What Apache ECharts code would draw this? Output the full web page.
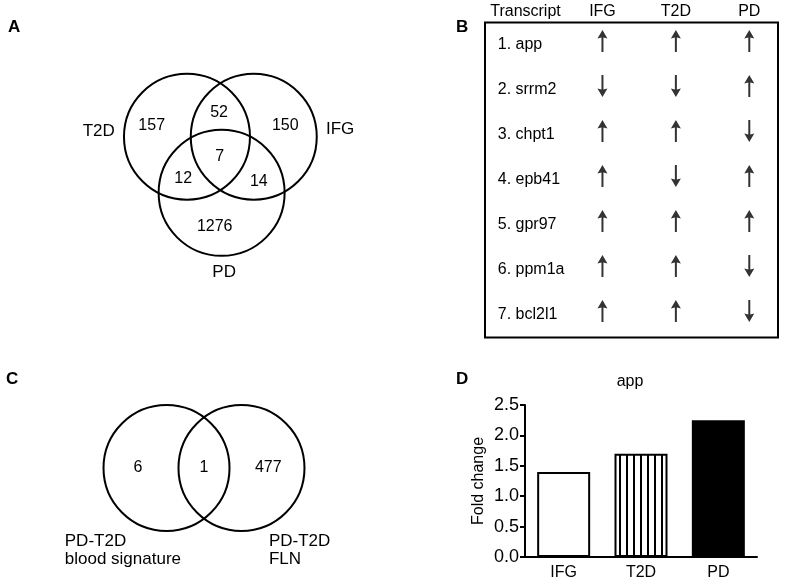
<!DOCTYPE html>
<html>
<head>
<meta charset="utf-8">
<script src="https://cdn.jsdelivr.net/npm/echarts@6/dist/echarts.min.js"></script>
<style>html,body{margin:0;padding:0;background:#fff}#c{width:786px;height:585px}</style>
</head>
<body>
<div id="c"></div>
<script>
// ---------- DATA ----------
// Panel A: three-way Venn (gene counts)
const vennASets = ['T2D', 'IFG', 'PD'];
const vennARegions = ['T2D only', 'T2D∩IFG', 'IFG only', 'all', 'T2D∩PD', 'IFG∩PD', 'PD only'];
const vennACounts = [157, 52, 150, 7, 12, 14, 1276];
// Panel C: two-way Venn
const vennCSets = ['PD-T2D\nblood signature', 'PD-T2D\nFLN'];
const vennCCounts = [6, 1, 477];
// Panel B: direction table
const transcripts = ['1. app', '2. srrm2', '3. chpt1', '4. epb41', '5. gpr97', '6. ppm1a', '7. bcl2l1'];
const conditions = ['IFG', 'T2D', 'PD'];
const ifgDir = ['up', 'down', 'up', 'up', 'up', 'up', 'up'];
const t2dDir = ['up', 'down', 'up', 'down', 'up', 'up', 'up'];
const pdDir  = ['up', 'up', 'down', 'up', 'up', 'down', 'down'];
// Panel D: fold change of app
const foldChange = [1.4, 1.7, 2.25];
const foldTicks = [0, 0.5, 1.0, 1.5, 2.0, 2.5];

// ---------- LAYOUT (diagram units, circle radius = 1) ----------
const layoutACircles = [[-0.54, 0.29, 1], [0.52, 0.29, 1], [0.01, -0.60, 1]];
const layoutASetLabels = [[-1.94, 0.37], [1.89, 0.40], [0.05, -1.86]];
const layoutARegions = [[-1.10, 0.46], [-0.03, 0.67], [1.02, 0.46], [-0.02, -0.03], [-0.60, -0.38], [0.60, -0.43], [-0.10, -1.13]];
const layoutCCircles = [[-0.595, 0, 1.0], [0.595, 0, 1.0]];
const layoutCSetLabels = [[-2.21, -1.41], [1.03, -1.41]];
const layoutCRegions = [[-1.05, 0], [0, 0], [1.02, 0]];

const FONT = '"Liberation Sans", Arial, sans-serif';

function circleSeries(ai, circles) {
  return {
    type: 'custom', xAxisIndex: ai, yAxisIndex: ai, silent: true,
    data: circles,
    renderItem: function (params, api) {
      const c = api.coord([api.value(0), api.value(1)]);
      const r = api.size([api.value(2), 0])[0];
      return { type: 'circle', shape: { cx: c[0], cy: c[1], r: r },
        style: { fill: 'none', stroke: '#000', lineWidth: 2 } };
    }
  };
}
function textSeries(ai, items) {
  return {
    type: 'custom', xAxisIndex: ai, yAxisIndex: ai, silent: true,
    data: items.map((it, i) => [it.pos[0], it.pos[1], i]),
    renderItem: function (params, api) {
      const it = items[api.value(2)];
      const c = api.coord([api.value(0), api.value(1)]);
      return { type: 'text', x: c[0], y: c[1],
        style: { text: it.text, fill: '#000', font: it.size + 'px ' + FONT,
          align: it.align || 'center', verticalAlign: 'middle', lineHeight: 18 } };
    }
  };
}

const textsA = vennASets.map((s, i) => ({ pos: layoutASetLabels[i], text: s, size: 17 }))
  .concat(vennACounts.map((v, i) => ({ pos: layoutARegions[i], text: String(v), size: 16 })));
const textsC = vennCSets.map((s, i) => ({ pos: layoutCSetLabels[i], text: s, size: 17, align: 'left' }))
  .concat(vennCCounts.map((v, i) => ({ pos: layoutCRegions[i], text: String(v), size: 16 })));

const dirs = [ifgDir, t2dDir, pdDir];
const arrowData = [];
conditions.forEach((cond, ci) => {
  transcripts.forEach((t, ri) => {
    arrowData.push({ value: [cond, t], symbolRotate: dirs[ci][ri] === 'down' ? 180 : 0 });
  });
});

const stripe = document.createElement('canvas');
stripe.width = 7; stripe.height = 10;
const sctx = stripe.getContext('2d');
sctx.fillStyle = '#fff'; sctx.fillRect(0, 0, 7, 10);
sctx.fillStyle = '#000'; sctx.fillRect(3, 0, 2, 10);

const barFills = ['#ffffff', { image: stripe, repeat: 'repeat' }, '#000000'];

const chart = echarts.init(document.getElementById('c'), null, { renderer: 'canvas' });
const letter = { fontSize: 17, fontWeight: 'bold', color: '#000', fontFamily: FONT };
chart.setOption({
  animation: false,
  backgroundColor: '#fff',
  textStyle: { fontFamily: FONT, color: '#000' },
  title: [
    { text: 'A', left: 8, top: 19, padding: 0, textStyle: letter },
    { text: 'B', left: 456, top: 19, padding: 0, textStyle: letter },
    { text: 'C', left: 6, top: 371, padding: 0, textStyle: letter },
    { text: 'D', left: 456, top: 371, padding: 0, textStyle: letter },
    { text: 'app', left: 630, top: 374, padding: 0, textAlign: 'center',
      textStyle: { fontSize: 16, fontWeight: 'normal', color: '#000', fontFamily: FONT } }
  ],
  grid: [
    { left: 95, top: 29, width: 252, height: 252 },
    { left: 46.5, top: 351, width: 315, height: 252 },
    { left: 485, top: 22.5, width: 293, height: 315, show: true, borderColor: '#000', borderWidth: 2, backgroundColor: 'transparent' },
    { left: 565.75, top: 22.5, width: 223.5, height: 315 },
    { left: 525, top: 405, width: 232, height: 152 }
  ],
  xAxis: [
    { gridIndex: 0, type: 'value', min: -2, max: 2, show: false },
    { gridIndex: 1, type: 'value', min: -2.5, max: 2.5, show: false },
    { gridIndex: 3, type: 'category', data: conditions, position: 'top',
      axisLine: { show: false }, axisTick: { show: false },
      axisLabel: { margin: 3, fontSize: 16, color: '#000' } },
    { gridIndex: 4, type: 'category', data: conditions,
      axisLine: { lineStyle: { color: '#000', width: 2 } }, axisTick: { show: false },
      axisLabel: { margin: 8, fontSize: 16, color: '#000' } }
  ],
  yAxis: [
    { gridIndex: 0, type: 'value', min: -2, max: 2, show: false },
    { gridIndex: 1, type: 'value', min: -2, max: 2, show: false },
    { gridIndex: 3, type: 'category', data: transcripts.slice().reverse(),
      axisLine: { show: false }, axisTick: { show: false }, splitLine: { show: false },
      axisLabel: { align: 'left', margin: 68, fontSize: 16, color: '#000' },
      name: 'Transcript', nameLocation: 'end', nameGap: 3,
      nameTextStyle: { align: 'right', verticalAlign: 'bottom', fontSize: 16, color: '#000', padding: [0, 5, 0, 0] } },
    { gridIndex: 4, type: 'value', min: 0, max: 2.5, interval: 0.5,
      axisLine: { show: true, lineStyle: { color: '#000', width: 2 } },
      axisTick: { show: true, length: 5, lineStyle: { color: '#000', width: 2 } },
      splitLine: { show: false },
      axisLabel: { margin: 6, fontSize: 18, color: '#000', formatter: v => v.toFixed(1) },
      name: 'Fold change', nameLocation: 'middle', nameGap: 38,
      nameTextStyle: { fontSize: 16, color: '#000' } }
  ],
  series: [
    circleSeries(0, layoutACircles),
    textSeries(0, textsA),
    circleSeries(1, layoutCCircles),
    textSeries(1, textsC),
    {
      type: 'scatter', xAxisIndex: 2, yAxisIndex: 2, silent: true,
      symbol: 'path://M5,0 L10,8.5 L6,7.5 L6,22 L4,22 L4,7.5 L0,8.5 Z',
      symbolSize: [10, 22], symbolOffset: [0, -4],
      itemStyle: { color: '#000' },
      data: arrowData
    },
    {
      type: 'bar', xAxisIndex: 3, yAxisIndex: 3, barWidth: 53, silent: true,
      data: foldChange.map((v, i) => ({ value: v,
        itemStyle: { color: barFills[i], borderColor: '#000', borderWidth: 2 } }))
    }
  ]
});
</script>
</body>
</html>
